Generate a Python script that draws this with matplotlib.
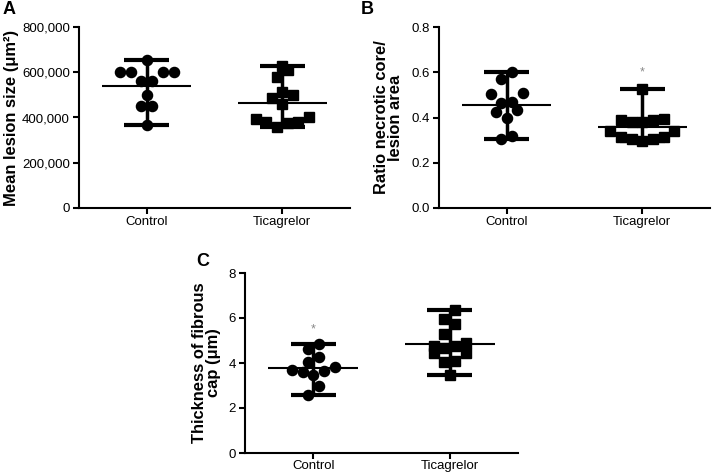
import numpy as np
import matplotlib
matplotlib.use("Agg")
import matplotlib.pyplot as plt

plt.rcParams['font.family'] = ['Liberation Sans', 'DejaVu Sans']

categories = ["Control", "Ticagrelor"]

# Panel A: mean lesion size (um^2)
a_control = [653000, 602000, 602000, 602000, 602000, 562000, 562000, 500000, 451000, 451000, 366000]
a_ticag = [628000, 612000, 577000, 512000, 499000, 488000, 461000, 400000, 393000, 379000, 378000, 376000, 358000]
a_yticks = [0, 200000, 400000, 600000, 800000]
a_yticklabels = ["0", "200,000", "400,000", "600,000", "800,000"]

# Panel B: ratio necrotic core / lesion area
b_control = [0.602, 0.568, 0.509, 0.506, 0.468, 0.465, 0.431, 0.423, 0.397, 0.319, 0.304]
b_ticag = [0.524, 0.394, 0.391, 0.387, 0.379, 0.379, 0.341, 0.341, 0.314, 0.314, 0.305, 0.305, 0.296]
b_yticks = [0.0, 0.2, 0.4, 0.6, 0.8]
b_yticklabels = ["0.0", "0.2", "0.4", "0.6", "0.8"]

# Panel C: thickness of fibrous cap (um)
c_control = [4.84, 4.61, 4.25, 4.04, 3.81, 3.70, 3.63, 3.58, 3.48, 3.00, 2.59]
c_ticag = [6.37, 5.96, 5.73, 5.29, 4.90, 4.74, 4.74, 4.67, 4.44, 4.44, 4.10, 4.04, 3.48]
c_yticks = [0, 2, 4, 6, 8]
c_yticklabels = ["0", "2", "4", "6", "8"]

DPI = 100
W, H = 712, 474
fig = plt.figure(figsize=(W / DPI, H / DPI), dpi=DPI)

SPACING_PX = 10.7   # horizontal spacing between neighbouring points
ROW_PX = 10.5       # vertical extent of one row of points


def row_offsets(ax, values):
    """Column-scatter layout: points are grouped into rows and centred."""
    vals = np.asarray(values, dtype=float)
    ys = ax.transData.transform(np.column_stack([np.zeros(len(vals)), vals]))[:, 1]
    ppu = ax.transData.transform((1, 0))[0] - ax.transData.transform((0, 0))[0]
    order = np.argsort(vals, kind='stable')
    xs = np.zeros(len(vals))
    rows = []
    cur = []
    start = None
    for idx in order:
        if start is None or abs(ys[idx] - start) < ROW_PX:
            if start is None:
                start = ys[idx]
            cur.append(idx)
        else:
            rows.append(cur)
            cur = [idx]
            start = ys[idx]
    if cur:
        rows.append(cur)
    for row in rows:
        n = len(row)
        if n % 2 == 1:
            slots = [0.0]
            k = 1
            while len(slots) < n:
                slots += [-k * SPACING_PX, k * SPACING_PX]
                k += 1
        else:
            slots = []
            k = 0
            while len(slots) < n:
                slots += [-(k + 0.5) * SPACING_PX, (k + 0.5) * SPACING_PX]
                k += 1
        for idx, s in zip(row, slots):
            xs[idx] = s
    return xs / ppu


def panel(rect, groups, yticks, yticklabels, ylabel, label_x_px, xpad=2.0, star=None):
    ax = fig.add_axes(rect)
    ax.set_xlim(-0.5, 1.5)
    ax.set_ylim(yticks[0], yticks[-1])
    for s in ["top", "right"]:
        ax.spines[s].set_visible(False)
    for s in ["left", "bottom"]:
        ax.spines[s].set_linewidth(1.5)
    ax.set_yticks(yticks)
    ax.set_yticklabels(yticklabels, fontsize=9.5)
    ax.set_xticks([0, 1])
    ax.set_xticklabels(categories, fontsize=9.5)
    ax.tick_params(direction='out', length=4, width=1.5)
    ax.tick_params(axis='y', pad=2.5)
    ax.tick_params(axis='x', pad=xpad)
    lab = ax.set_ylabel(ylabel, fontsize=11.9, fontweight='bold', linespacing=0.95)
    lab.set_va('center')
    left_px = rect[0] * W
    ax.yaxis.set_label_coords((label_x_px - left_px) / (rect[2] * W), 0.5)
    markers = ['o', 's']
    for i, vals in enumerate(groups):
        vals = np.asarray(vals, dtype=float)
        xo = row_offsets(ax, vals)
        lo, hi, mu = vals.min(), vals.max(), vals.mean()
        ax.vlines(i, lo, hi, color='black', lw=2.5, zorder=2)
        ax.hlines([lo, hi], i - 0.165, i + 0.165, color='black', lw=3, zorder=2)
        ax.hlines(mu, i - 0.33, i + 0.33, color='black', lw=1.5, zorder=2)
        ax.plot(i + xo, vals, linestyle='none', marker=markers[i],
                markersize=7.3 if markers[i] == 'o' else 7.0,
                color='black', zorder=3, clip_on=False)
    if star is not None:
        ax.text(star[0], star[1], '*', color='#888888', fontsize=9,
                ha='center', va='center')
    return ax


def rect(l, r, t, b):
    return [l / W, 1 - b / H, (r - l) / W, (b - t) / H]


axA = panel(rect(79, 350, 27, 208), [a_control, a_ticag], a_yticks, a_yticklabels,
            "Mean lesion size (μm²)", 12)
axB = panel(rect(439, 710, 27, 208), [b_control, b_ticag], b_yticks, b_yticklabels,
            "Ratio necrotic core/\nlesion area", 388.5, star=(1, 0.6))
axC = panel(rect(245, 518, 273, 453), [c_control, c_ticag], c_yticks, c_yticklabels,
            "Thickness of fibrous\ncap (μm)", 206.5, xpad=0.8, star=(0, 5.5))

fig.text(3 / W, 1 - 9 / H, "A", fontsize=13, fontweight='bold', va='center', ha='left')
fig.text(361 / W, 1 - 9 / H, "B", fontsize=13, fontweight='bold', va='center', ha='left')
fig.text(196 / W, 1 - 261 / H, "C", fontsize=13, fontweight='bold', va='center', ha='left')

fig.savefig("out.png", dpi=DPI)
